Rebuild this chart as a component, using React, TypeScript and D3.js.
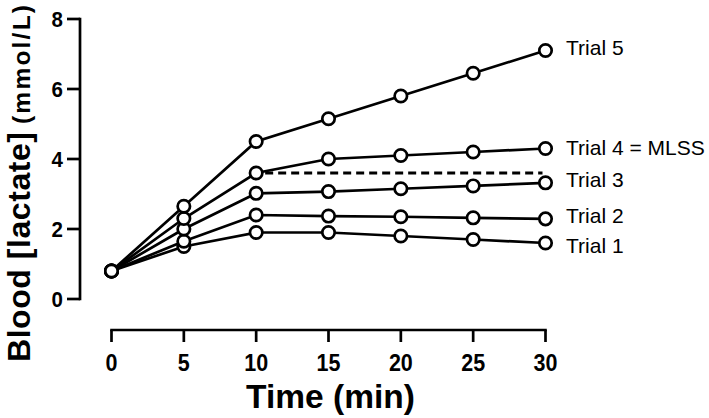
import React from "react";
import * as d3 from "d3";

const times = [0, 5, 10, 15, 20, 25, 30];
const trial1 = [0.8, 1.5, 1.9, 1.9, 1.8, 1.7, 1.6];
const trial2 = [0.8, 1.65, 2.4, 2.37, 2.35, 2.32, 2.29];
const trial3 = [0.8, 2.0, 3.02, 3.07, 3.15, 3.23, 3.32];
const trial4 = [0.8, 2.3, 3.6, 4.0, 4.1, 4.2, 4.3];
const trial5 = [0.8, 2.65, 4.5, 5.15, 5.8, 6.45, 7.1];
const seriesNames = ["Trial 1", "Trial 2", "Trial 3", "Trial 4 = MLSS", "Trial 5"];
const mlssLevel = 3.6;
const mlssFrom = 10;
const mlssTo = 30;
const xTicks = [0, 5, 10, 15, 20, 25, 30];
const yTicks = [0, 2, 4, 6, 8];

// label vertical nudges (styling only)
const labelDy = [10, 4, 4, 6, 4];

const W = 709;
const H = 418;
const FONT = "'Liberation Sans', Arial, Helvetica, sans-serif";

export default function App() {
  const x = d3.scaleLinear().domain([0, 30]).range([111.5, 545.5]);
  const y = d3.scaleLinear().domain([0, 8]).range([299, 19]);
  const all = [trial1, trial2, trial3, trial4, trial5];
  const line = d3
    .line<number>()
    .x((_, i) => x(times[i]))
    .y((v) => y(v));

  const axisY = 330;
  const axisX = 80;

  return (
    <div style={{ position: "absolute", left: 0, top: 0 }}>
      <svg width={W} height={H} style={{ display: "block", background: "#fff" }}>
        {/* Y axis */}
        <line x1={axisX} x2={axisX} y1={y(8) - 1.3} y2={y(0) + 1.3} stroke="#000" strokeWidth={2.7} />
        {yTicks.map((t) => (
          <g key={"yt" + t}>
            <line x1={axisX - 13} x2={axisX} y1={y(t)} y2={y(t)} stroke="#000" strokeWidth={2.7} />
            <text
              transform={`translate(63, ${y(t)}) scale(1, 1.08)`}
              dy="0.36em"
              textAnchor="end"
              fontFamily={FONT}
              fontWeight="bold"
              fontSize={20.5}
              fill="#000"
            >
              {t}
            </text>
          </g>
        ))}
        {/* X axis */}
        <line x1={x(0) - 1.3} x2={x(30) + 1.3} y1={axisY} y2={axisY} stroke="#000" strokeWidth={2.7} />
        {xTicks.map((t) => (
          <g key={"xt" + t}>
            <line x1={x(t)} x2={x(t)} y1={axisY} y2={axisY + 12} stroke="#000" strokeWidth={2.7} />
            <text
              transform={`translate(${x(t)}, 371) scale(1, 1.1)`}
              textAnchor="middle"
              fontFamily={FONT}
              fontWeight="bold"
              fontSize={21.5}
              fill="#000"
            >
              {t}
            </text>
          </g>
        ))}
        {/* Axis titles */}
        <text
          x={(x(0) + x(30)) / 2 + 2}
          y={408}
          textAnchor="middle"
          fontFamily={FONT}
          fontWeight="bold"
          fontSize={33.5}
          fill="#000"
        >
          Time (min)
        </text>
        <text
          transform={`translate(30, 362) rotate(-90)`}
          fontFamily={FONT}
          fontWeight="bold"
          fontSize={32}
          fill="#000"
          textLength={230}
          lengthAdjust="spacing"
        >
          Blood [lactate]
        </text>
        <text
          transform={`translate(30, 124) rotate(-90)`}
          fontFamily={FONT}
          fontWeight="bold"
          fontSize={24.5}
          fill="#000"
          textLength={119}
          lengthAdjust="spacing"
        >
          (mmol/L)
        </text>

        {/* MLSS dashed line */}
        <line
          x1={x(mlssFrom) + 9}
          x2={x(mlssTo) - 3}
          y1={y(mlssLevel)}
          y2={y(mlssLevel)}
          stroke="#000"
          strokeWidth={2.8}
          strokeDasharray="8,5"
        />

        {/* Lines */}
        {all.map((s, k) => (
          <path key={"l" + k} d={line(s) || ""} fill="none" stroke="#000" strokeWidth={2.7} />
        ))}
        {/* Markers */}
        {all.map((s, k) =>
          s.map((v, i) => (
            <circle
              key={"c" + k + "-" + i}
              cx={x(times[i])}
              cy={y(v)}
              r={6.2}
              fill="#fff"
              stroke="#000"
              strokeWidth={2.7}
            />
          ))
        )}
        {/* Labels */}
        {all.map((s, k) => (
          <text
            key={"lab" + k}
            x={566}
            y={y(s[s.length - 1]) + labelDy[k]}
            fontFamily={FONT}
            fontSize={21}
            fill="#000"
          >
            {seriesNames[k]}
          </text>
        ))}
      </svg>
    </div>
  );
}
